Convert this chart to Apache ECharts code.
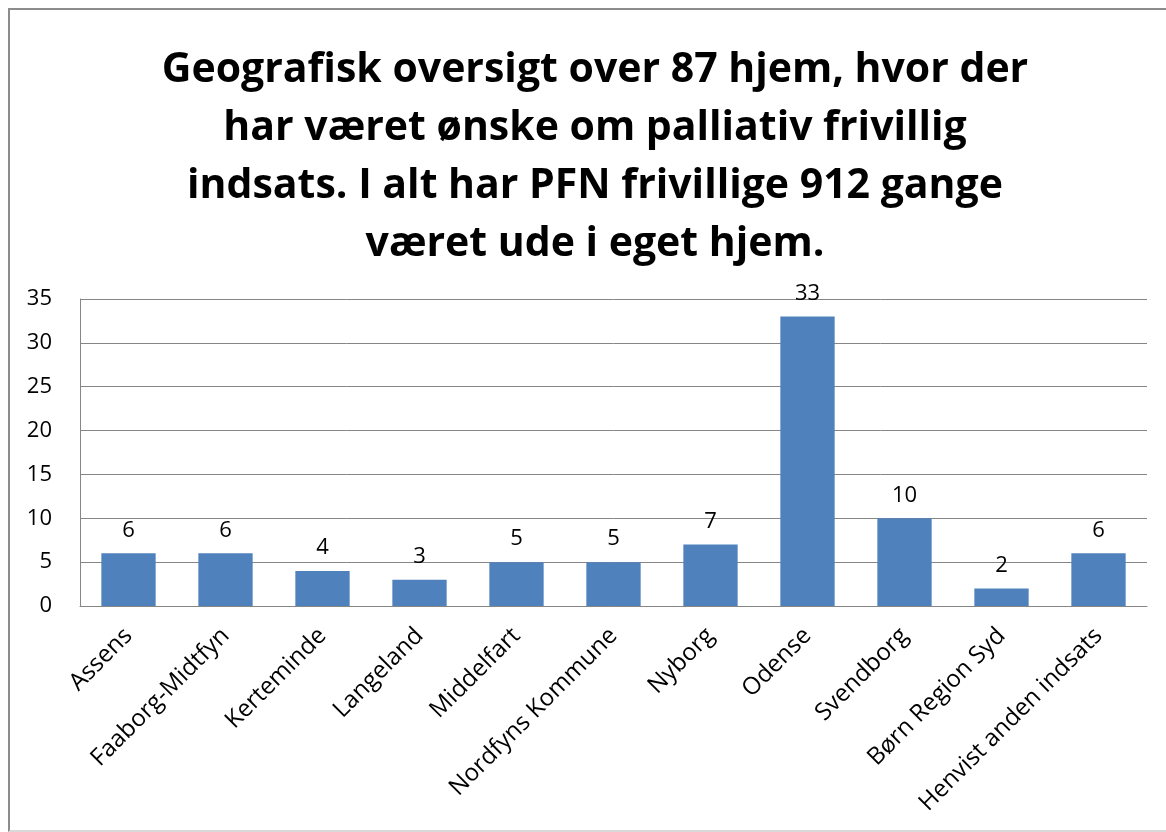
<!DOCTYPE html>
<html>
<head>
<meta charset="utf-8">
<script src="https://cdn.jsdelivr.net/npm/echarts@6/dist/echarts.min.js"></script>
<style>
  html, body { margin: 0; padding: 0; background: #fff; }
  .frame {
    position: absolute;
    left: 8px;
    top: 8px;
    width: 1170px;
    height: 820px;
    border-left: 2px solid #8c8c8c;
    border-top: 2px solid #8c8c8c;
    border-bottom: 2px solid #d9d9d9;
  }
  #main { position: absolute; left: 0; top: 0; width: 1166px; height: 832px; }
</style>
</head>
<body>
<div class="frame"></div>
<div id="main"></div>
<script>
// kommuner / kategorier
const categories = ['Assens', 'Faaborg-Midtfyn', 'Kerteminde', 'Langeland', 'Middelfart',
  'Nordfyns Kommune', 'Nyborg', 'Odense', 'Svendborg', 'Børn Region Syd', 'Henvist anden indsats']
// antal hjem
const values = [6, 6, 4, 3, 5, 5, 7, 33, 10, 2, 6]
const yTicks = [0, 5, 10, 15, 20, 25, 30, 35]
const titleText = 'Geografisk oversigt over 87 hjem, hvor der\nhar været ønske om palliativ frivillig\nindsats. I alt har PFN frivillige 912 gange\nværet ude i eget hjem.'

const font = '"Open Sans", Lato, sans-serif'
const myChart = echarts.init(document.getElementById('main'))

myChart.setOption({
  animation: false,
  title: {
    text: titleText,
    left: 590,
    top: 36,
    textAlign: 'center',
    textStyle: {
      fontFamily: font,
      fontWeight: 'bold',
      fontSize: 41,
      lineHeight: 58,
      color: '#000'
    }
  },
  grid: {
    left: 80,
    right: 19,
    top: 299,
    bottom: 226
  },
  xAxis: {
    type: 'category',
    data: categories,
    axisLine: { lineStyle: { color: '#868686', width: 1 } },
    axisTick: { show: false },
    axisLabel: {
      interval: 0,
      rotate: 45,
      margin: 26,
      fontFamily: font,
      fontSize: 24,
      color: '#000'
    }
  },
  yAxis: {
    type: 'value',
    min: yTicks[0],
    max: yTicks[yTicks.length - 1],
    interval: 5,
    axisLine: { show: true, lineStyle: { color: '#868686', width: 1 } },
    axisTick: { show: false },
    splitLine: { lineStyle: { color: '#868686', width: 1 } },
    axisLabel: {
      margin: 28,
      fontFamily: font,
      fontSize: 22,
      color: '#000'
    }
  },
  series: [{
    type: 'bar',
    data: values,
    barWidth: '56%',
    itemStyle: { color: '#4f81bd' },
    label: {
      show: true,
      position: 'top',
      distance: 12,
      fontFamily: font,
      fontSize: 22,
      color: '#000'
    }
  }]
})
</script>
</body>
</html>
